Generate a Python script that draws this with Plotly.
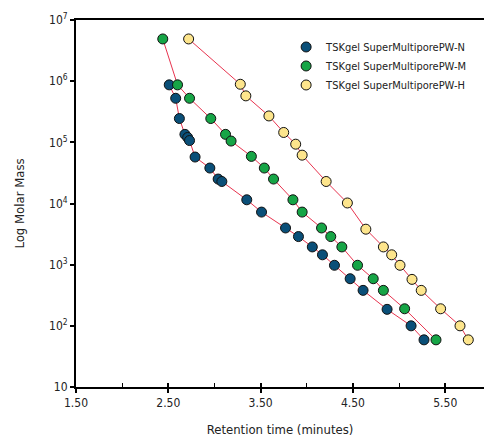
import plotly.graph_objects as go

# retention time (minutes) and molar mass
time_n = [2.51, 2.58, 2.62, 2.68, 2.71, 2.73, 2.79, 2.95, 3.04, 3.08, 3.35, 3.51,
          3.77, 3.91, 4.06, 4.17, 4.30, 4.47, 4.61, 4.87, 5.13, 5.27]
mass_n = [870000, 525000, 245000, 135000, 120000, 107000, 57500, 38000, 25100, 22900,
          11500, 7240, 3980, 2880, 1950, 1450, 977, 589, 380, 186, 100, 59]

time_m = [2.44, 2.60, 2.73, 2.96, 3.12, 3.18, 3.40, 3.54, 3.64, 3.85, 3.95, 4.16,
          4.26, 4.38, 4.55, 4.72, 4.83, 5.06, 5.40]
mass_m = [4900000, 870000, 525000, 245000, 135000, 105000, 58900, 38000, 25100, 11500,
          7240, 3980, 2880, 1950, 977, 589, 380, 190, 59]

time_h = [2.72, 3.28, 3.34, 3.59, 3.75, 3.88, 3.95, 4.21, 4.44, 4.64, 4.83, 4.92,
          5.01, 5.14, 5.24, 5.45, 5.66, 5.75]
mass_h = [4900000, 890000, 575000, 270000, 145000, 93300, 61700, 22900, 10200, 3800,
          1950, 1450, 977, 575, 380, 190, 100, 59]

names = ["TSKgel SuperMultiporePW-N", "TSKgel SuperMultiporePW-M", "TSKgel SuperMultiporePW-H"]
colors = ["#0a4f78", "#16a546", "#fde58c"]

x_ticks = [1.5, 2.5, 3.5, 4.5, 5.5]
x_labels = ["1.50", "2.50", "3.50", "4.50", "5.50"]
y_ticks = [10, 100, 1000, 10000, 100000, 1000000, 10000000]
y_labels = ["10", "10<sup>2</sup>", "10<sup>3</sup>", "10<sup>4</sup>",
            "10<sup>5</sup>", "10<sup>6</sup>", "10<sup>7</sup>"]

font = "DejaVu Sans Condensed, Liberation Sans Narrow, Roboto, sans-serif"
series = [(time_n, mass_n), (time_m, mass_m), (time_h, mass_h)]

fig = go.Figure()

# red connecting lines first, under the markers
for t, m in series:
    fig.add_trace(go.Scatter(x=t, y=m, mode="lines", showlegend=False,
                             line=dict(color="#e8344f", width=1), hoverinfo="skip"))

for (t, m), name, col in zip(series, names, colors):
    fig.add_trace(go.Scatter(x=t, y=m, mode="markers", name=name,
                             marker=dict(color=col, size=10,
                                         line=dict(color="#111111", width=1))))

# second x axis only to give the major ticks a crossing look
fig.add_trace(go.Scatter(x=[1.5], y=[10], xaxis="x2", mode="markers",
                         marker=dict(opacity=0), showlegend=False, hoverinfo="skip"))

fig.update_layout(
    width=484, height=437,
    margin=dict(l=76, r=0, t=20, b=50),
    paper_bgcolor="white", plot_bgcolor="white",
    font=dict(family=font, size=12, color="#222222"),
    legend=dict(x=0.515, y=0.966, xanchor="left", yanchor="top",
                font=dict(size=11), bgcolor="rgba(0,0,0,0)",
                itemwidth=30, tracegroupgap=2),
    xaxis=dict(range=[1.5, 5.92], tickvals=x_ticks, ticktext=x_labels,
               ticks="outside", ticklen=4, tickwidth=1.5, tickcolor="black",
               minor=dict(tickvals=[2.0, 3.0, 4.0, 5.0], ticks="inside",
                         ticklen=4, tickwidth=1, tickcolor="black"),
               showline=True, linecolor="black", linewidth=2, mirror=True,
               showgrid=False, zeroline=False, automargin=False,
               title=dict(text="Retention time (minutes)", font=dict(size=13), standoff=15)),
    xaxis2=dict(range=[1.5, 5.92], overlaying="x", side="bottom", anchor="y",
                tickvals=x_ticks, ticks="inside", ticklen=4, tickwidth=1.5,
                tickcolor="black", showticklabels=False, showgrid=False,
                zeroline=False),
    yaxis=dict(type="log", range=[1, 7], tickvals=y_ticks, ticktext=y_labels,
               ticks="outside", ticklen=4, tickwidth=1.5, tickcolor="black",
               showline=True, linecolor="black", linewidth=2,
               showgrid=False, zeroline=False, automargin=False,
               title=dict(text="Log Molar Mass", font=dict(size=13), standoff=22)),
)

fig.write_html("out.html", config={"displayModeBar": False},
               post_script="document.body.style.margin='0';")
